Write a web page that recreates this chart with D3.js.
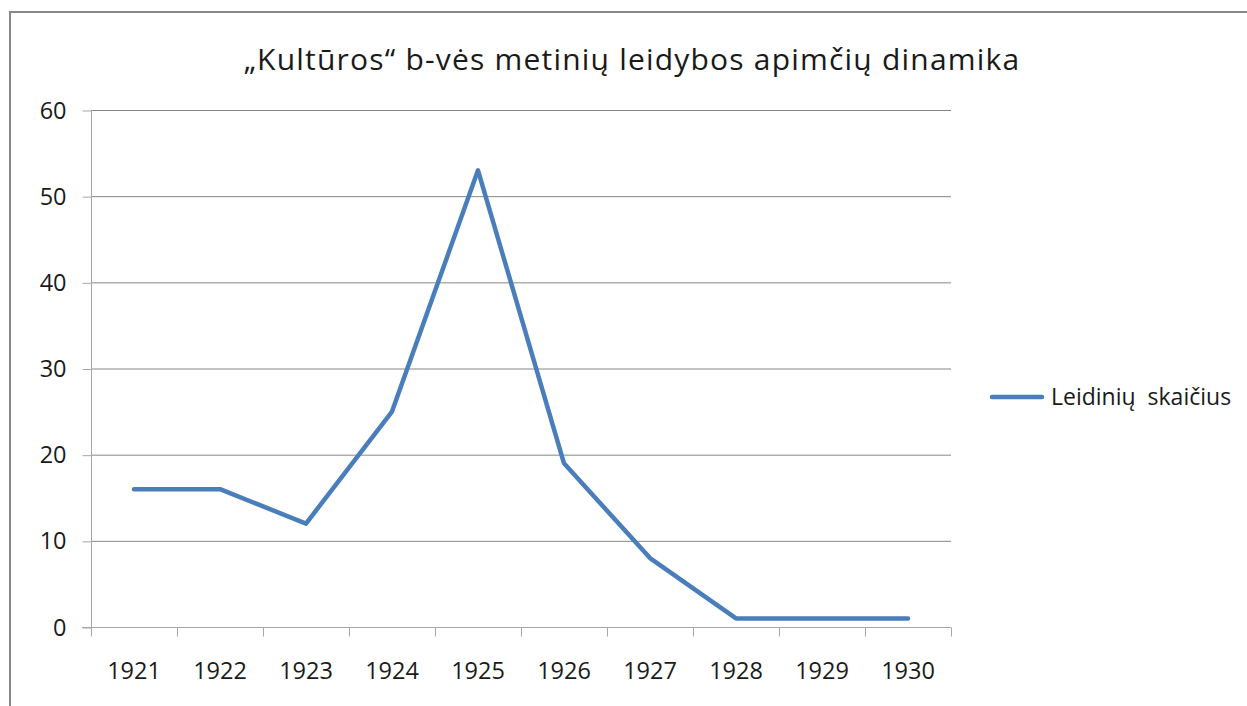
<!DOCTYPE html>
<html>
<head>
<meta charset="utf-8">
<script src="https://cdn.jsdelivr.net/npm/d3@7"></script>
<style>
  body { margin: 0; background: #fff; }
  text { font-family: "Open Sans", Lato, sans-serif; fill: #1a1a1a; }
</style>
</head>
<body>
<div id="chart"></div>
<script>
// Data
var years = ["1921", "1922", "1923", "1924", "1925", "1926", "1927", "1928", "1929", "1930"];
var counts = [16, 16, 12, 25, 53, 19, 8, 1, 1, 1];
var yTicks = [0, 10, 20, 30, 40, 50, 60];
var seriesName = "Leidinių  skaičius";
var title = "„Kultūros“ b-vės metinių leidybos apimčių dinamika";

var width = 1247, height = 706;
var plot = {left: 91, right: 951, top: 110, bottom: 627};

var svg = d3.select("#chart")
  .append("svg")
    .attr("width", width)
    .attr("height", height);

// chart frame (only top and left edges visible)
svg.append("path")
  .attr("d", "M10,706 L10,12 L1247,12")
  .attr("fill", "none")
  .attr("stroke", "#888")
  .attr("stroke-width", 2);

var x = d3.scaleBand()
  .domain(years)
  .range([plot.left, plot.right]);

var y = d3.scaleLinear()
  .domain([0, 60])
  .range([plot.bottom, plot.top]);

// gridlines
svg.append("g")
  .selectAll("line")
  .data(yTicks.filter(d => d > 0))
  .join("line")
    .attr("x1", plot.left)
    .attr("x2", plot.right)
    .attr("y1", d => y(d) + 0.5)
    .attr("y2", d => y(d) + 0.5)
    .attr("stroke", "#868686")
    .attr("stroke-width", 1);

// y axis
var yAxis = svg.append("g")
  .attr("transform", `translate(${plot.left + 0.5},0.5)`)
  .call(d3.axisLeft(y).tickValues(yTicks).tickSize(9).tickPadding(16));
yAxis.selectAll("line, path").attr("stroke", "#a6a6a6");
yAxis.select(".domain").attr("d", `M0,${plot.top}V${plot.bottom}`);
yAxis.selectAll("text")
  .style("font-size", "23.5px")
  .attr("fill", "#1a1a1a");

// x axis (ticks on band edges)
var xAxis = svg.append("g")
  .attr("transform", `translate(0,${plot.bottom + 0.5})`);
xAxis.append("line")
  .attr("x1", plot.left - 9)
  .attr("x2", plot.right)
  .attr("stroke", "#a6a6a6");
xAxis.selectAll(".tick")
  .data(years.concat(["end"]))
  .join("line")
    .attr("class", "tick")
    .attr("x1", (d, i) => plot.left + i * x.bandwidth() + 0.5)
    .attr("x2", (d, i) => plot.left + i * x.bandwidth() + 0.5)
    .attr("y1", 0)
    .attr("y2", 9)
    .attr("stroke", "#a6a6a6");
xAxis.selectAll(".lbl")
  .data(years)
  .join("text")
    .attr("class", "lbl")
    .attr("x", d => x(d) + x.bandwidth() / 2)
    .attr("y", 51)
    .attr("text-anchor", "middle")
    .style("font-size", "23.5px")
    .text(d => d);

// line
var line = d3.line()
  .x((d, i) => x(years[i]) + x.bandwidth() / 2)
  .y(d => y(d));

svg.append("path")
  .datum(counts)
  .attr("d", line)
  .attr("fill", "none")
  .attr("stroke", "#4a7ebb")
  .attr("stroke-width", 4.5)
  .attr("stroke-linejoin", "round")
  .attr("stroke-linecap", "round");

// title
svg.append("text")
  .attr("x", 632)
  .attr("y", 70)
  .attr("text-anchor", "middle")
  .style("font-size", "30px")
  .style("letter-spacing", "1.2px")
  .text(title);

// legend
var legend = svg.append("g").attr("transform", "translate(992,397)");
legend.append("line")
  .attr("x1", 0)
  .attr("x2", 50)
  .attr("stroke", "#4a7ebb")
  .attr("stroke-width", 4.5)
  .attr("stroke-linecap", "round");
legend.append("text")
  .attr("x", 59)
  .attr("y", 8)
  .style("font-size", "23px")
  .style("white-space", "pre")
  .text(seriesName);
</script>
</body>
</html>
